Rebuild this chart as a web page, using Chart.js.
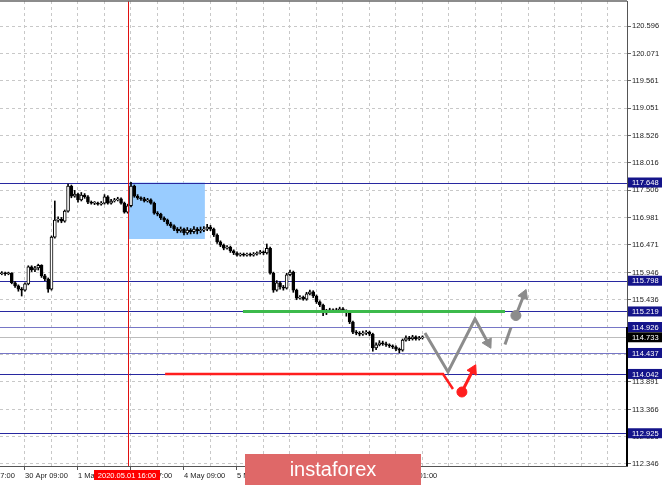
<!DOCTYPE html>
<html>
<head>
<meta charset="utf-8">
<script src="https://cdn.jsdelivr.net/npm/chart.js@4.4.1/dist/chart.umd.min.js"></script>
<style>
html, body { margin: 0; padding: 0; background: #fff; }
#wrap { width: 665px; height: 485px; }
</style>
</head>
<body>
<div id="wrap"><canvas id="myChart" width="665" height="485"></canvas></div>
<script>
// H1 bars, bar 8 = 30 Apr 09:00
const opens = [
	115.92, 115.93, 115.94, 115.93, 115.94, 115.76, 115.70, 115.64, 115.62, 115.74,
	116.06, 116.00, 116.04, 116.09, 115.89, 115.83, 115.64, 116.62, 116.94, 116.96,
	116.92, 117.11, 117.58, 117.39, 117.43, 117.32, 117.41, 117.38, 117.28, 117.26,
	117.26, 117.24, 117.26, 117.38, 117.26, 117.30, 117.32, 117.34, 117.26, 117.09,
	117.21, 117.58, 117.39, 117.36, 117.34, 117.30, 117.32, 117.26, 117.07, 117.05,
	116.98, 116.94, 116.87, 116.83, 116.77, 116.74, 116.77, 116.70, 116.75, 116.72,
	116.77, 116.74, 116.75, 116.77, 116.81, 116.77, 116.66, 116.53, 116.47, 116.41,
	116.43, 116.36, 116.32, 116.28, 116.30, 116.28, 116.30, 116.28, 116.30, 116.32,
	116.34, 116.32, 116.41, 115.94, 115.62, 115.76, 115.68, 115.66, 115.91, 115.96,
	115.62, 115.47, 115.49, 115.45, 115.55, 115.59, 115.51, 115.40, 115.34, 115.19,
	115.23, 115.25, 115.23, 115.25, 115.27, 115.23, 115.21, 115.02, 114.83, 114.81,
	114.79, 114.81, 114.83, 114.79, 114.53, 114.59, 114.63, 114.61, 114.59, 114.57,
	114.55, 114.51, 114.49, 114.68, 114.72, 114.70, 114.74, 114.70, 114.72
];
const highs = [
	115.96, 115.97, 115.96, 115.96, 115.95, 115.78, 115.72, 115.67, 115.76, 116.08,
	116.08, 116.07, 116.11, 116.10, 115.92, 115.85, 116.64, 117.30, 117.00, 116.99,
	117.13, 117.62, 117.60, 117.50, 117.45, 117.46, 117.44, 117.40, 117.30, 117.29,
	117.28, 117.29, 117.42, 117.40, 117.33, 117.35, 117.37, 117.36, 117.28, 117.24,
	117.65, 117.60, 117.42, 117.38, 117.37, 117.35, 117.34, 117.28, 117.10, 117.07,
	117.00, 116.96, 116.90, 116.85, 116.80, 116.81, 116.79, 116.80, 116.78, 116.82,
	116.80, 116.81, 116.82, 116.86, 116.84, 116.79, 116.68, 116.55, 116.49, 116.46,
	116.45, 116.38, 116.34, 116.32, 116.32, 116.32, 116.32, 116.33, 116.34, 116.37,
	116.36, 116.49, 116.43, 115.96, 115.80, 115.78, 115.71, 115.94, 116.00, 115.98,
	115.64, 115.52, 115.51, 115.58, 115.62, 115.61, 115.53, 115.42, 115.36, 115.26,
	115.28, 115.27, 115.28, 115.30, 115.29, 115.25, 115.23, 115.04, 114.86, 114.84,
	114.85, 114.86, 114.85, 114.81, 114.63, 114.67, 114.66, 114.64, 114.61, 114.59,
	114.57, 114.53, 114.70, 114.76, 114.75, 114.77, 114.76, 114.75, 114.76
];
const lows = [
	115.89, 115.91, 115.90, 115.91, 115.74, 115.67, 115.60, 115.51, 115.60, 115.72,
	115.97, 115.97, 116.00, 115.86, 115.80, 115.58, 115.62, 116.60, 116.90, 116.89,
	116.90, 117.09, 117.36, 117.37, 117.28, 117.30, 117.35, 117.25, 117.24, 117.23,
	117.22, 117.22, 117.24, 117.24, 117.24, 117.28, 117.30, 117.24, 117.07, 117.07,
	117.19, 117.37, 117.33, 117.31, 117.28, 117.28, 117.24, 117.05, 117.02, 116.95,
	116.91, 116.84, 116.80, 116.74, 116.70, 116.71, 116.66, 116.67, 116.68, 116.69,
	116.68, 116.70, 116.72, 116.74, 116.74, 116.63, 116.50, 116.44, 116.38, 116.39,
	116.33, 116.29, 116.26, 116.26, 116.26, 116.26, 116.26, 116.26, 116.28, 116.30,
	116.29, 116.30, 115.92, 115.58, 115.60, 115.64, 115.62, 115.64, 115.89, 115.58,
	115.44, 115.45, 115.43, 115.43, 115.53, 115.48, 115.37, 115.31, 115.14, 115.16,
	115.21, 115.21, 115.21, 115.23, 115.21, 115.13, 114.99, 114.80, 114.78, 114.76,
	114.77, 114.78, 114.76, 114.47, 114.50, 114.57, 114.58, 114.56, 114.54, 114.52,
	114.48, 114.44, 114.47, 114.66, 114.67, 114.68, 114.68, 114.68, 114.70
];
const closes = [
	115.93, 115.94, 115.93, 115.94, 115.76, 115.70, 115.64, 115.62, 115.74, 116.06,
	116.00, 116.04, 116.09, 115.89, 115.83, 115.64, 116.62, 116.94, 116.96, 116.92,
	117.11, 117.58, 117.39, 117.43, 117.32, 117.41, 117.38, 117.28, 117.26, 117.26,
	117.24, 117.26, 117.38, 117.26, 117.30, 117.32, 117.34, 117.26, 117.09, 117.21,
	117.58, 117.39, 117.36, 117.34, 117.30, 117.32, 117.26, 117.07, 117.05, 116.98,
	116.94, 116.87, 116.83, 116.77, 116.74, 116.77, 116.70, 116.75, 116.72, 116.77,
	116.74, 116.75, 116.77, 116.81, 116.77, 116.66, 116.53, 116.47, 116.41, 116.43,
	116.36, 116.32, 116.28, 116.30, 116.28, 116.30, 116.28, 116.30, 116.32, 116.34,
	116.32, 116.41, 115.94, 115.62, 115.76, 115.68, 115.66, 115.91, 115.96, 115.62,
	115.47, 115.49, 115.45, 115.55, 115.59, 115.51, 115.40, 115.34, 115.19, 115.23,
	115.25, 115.23, 115.25, 115.27, 115.23, 115.21, 115.02, 114.83, 114.81, 114.79,
	114.81, 114.83, 114.79, 114.53, 114.59, 114.63, 114.61, 114.59, 114.57, 114.55,
	114.51, 114.49, 114.68, 114.72, 114.70, 114.74, 114.70, 114.72, 114.73
];

// time axis
const timeLabels = ["29 Apr 17:00", "30 Apr 09:00", "1 May 01:00", "1 May 17:00", "4 May 09:00",
	"5 May 01:00", "5 May 17:00", "6 May 09:00", "7 May 01:00"];
const timeLabelBars = [-8, 8, 24, 40, 56, 72, 88, 104, 120];

// price axis
const priceTicks = [120.596, 120.071, 119.561, 119.051, 118.526, 118.016, 117.506, 116.981, 116.471,
	115.946, 115.436, 114.926, 114.416, 113.891, 113.366, 112.856, 112.346];

// horizontal levels
const levels = [117.648, 115.798, 115.219, 114.926, 114.437, 114.042, 112.925];
const lightLevels = [114.926, 114.437];
const bidPrice = 114.733;

// crosshair and rectangle
const crossBar = 39.1;
const crossLabel = "2020.05.01 16:00";
const zoneBars = [39.1, 62.3];
const zonePrices = [117.648, 116.584];

// drawn scenario: [bar, price]
const greenLine = [[73.8, 115.219], [152.9, 115.219]];
const redLine = [[50.3, 114.042], [134.2, 114.042], [137.2, 113.758]];
const redArrow = [[139.9, 113.702], [143.25, 114.116]];
const greyPath = [[128.75, 114.813], [135.7, 114.079], [143.85, 115.077], [147.8, 114.625]];
const greyDash = [[152.9, 114.596], [154.7, 114.916]];
const greyArrow = [[156.2, 115.142], [158.6, 115.529]];

const toPts = (arr) => arr.map((p) => ({ x: p[0], y: p[1] }));

Chart.defaults.font.family = "'Liberation Sans', Arial, sans-serif";
Chart.defaults.font.size = 7.5;
Chart.defaults.color = "#222";

const overlay = {
	id: "overlay",
	beforeDatasetsDraw(chart) {
		const { ctx, chartArea: a, scales: { x, y } } = chart;
		ctx.save();
		// blue rectangle
		ctx.fillStyle = "#99ccff";
		const zx1 = x.getPixelForValue(zoneBars[0]), zx2 = x.getPixelForValue(zoneBars[1]);
		const zy1 = y.getPixelForValue(zonePrices[0]), zy2 = y.getPixelForValue(zonePrices[1]);
		ctx.fillRect(zx1, zy1, zx2 - zx1, zy2 - zy1);
		// bid line
		ctx.strokeStyle = "#bcbcbc";
		ctx.lineWidth = 1;
		let by = Math.round(y.getPixelForValue(bidPrice)) + 0.5;
		ctx.beginPath(); ctx.moveTo(a.left, by); ctx.lineTo(a.right, by); ctx.stroke();
		// levels
		levels.forEach((lv) => {
			const py = Math.round(y.getPixelForValue(lv)) + 0.5;
			ctx.strokeStyle = lightLevels.includes(lv) ? "#7676c6" : "#2828a0";
			ctx.beginPath(); ctx.moveTo(a.left, py); ctx.lineTo(a.right, py); ctx.stroke();
		});
		ctx.restore();
	},
	afterDatasetsDraw(chart) {
		const { ctx, chartArea: a, scales: { x } } = chart;
		ctx.save();
		const cx = Math.round(x.getPixelForValue(crossBar)) + 0.5;
		ctx.strokeStyle = "#e01010";
		ctx.lineWidth = 1;
		ctx.beginPath(); ctx.moveTo(cx, a.top); ctx.lineTo(cx, a.bottom); ctx.stroke();
		ctx.restore();
	},
	afterDraw(chart) {
		const { ctx, chartArea: a, scales: { x, y } } = chart;
		ctx.save();
		// borders
		ctx.strokeStyle = "#666";
		ctx.lineWidth = 1.5;
		ctx.beginPath(); ctx.moveTo(0, a.top); ctx.lineTo(a.right, a.top); ctx.stroke();
		ctx.strokeStyle = "#000";
		ctx.lineWidth = 2;
		const sy = y.getPixelForValue(114.926);
		ctx.beginPath(); ctx.moveTo(a.right, sy); ctx.lineTo(a.right, a.bottom); ctx.stroke();

		// level price boxes
		ctx.font = "7.5px 'Liberation Sans', Arial, sans-serif";
		ctx.textBaseline = "middle";
		ctx.textAlign = "left";
		const box = (v, col) => {
			const py = y.getPixelForValue(v);
			ctx.fillStyle = col;
			ctx.fillRect(a.right + 1, py - 5, 34, 10);
			ctx.fillStyle = "#fff";
			ctx.fillText(v.toFixed(3), a.right + 5, py + 0.5);
		};
		levels.forEach((lv) => box(lv, "#14148a"));
		box(bidPrice, "#000");

		// crosshair time label
		const cx = x.getPixelForValue(crossBar);
		ctx.fillStyle = "#ff0000";
		ctx.fillRect(cx - 34, a.bottom + 4, 66, 10);
		ctx.fillStyle = "#fff";
		ctx.textAlign = "center";
		ctx.fillText(crossLabel, cx - 1, a.bottom + 9.5);

		// watermark
		ctx.fillStyle = "#df6868";
		ctx.fillRect(245, 454, 176, 31);
		ctx.fillStyle = "#fff";
		ctx.font = "20px 'Liberation Sans', Arial, sans-serif";
		ctx.textBaseline = "alphabetic";
		ctx.fillText("instaforex", 333, 476);
		ctx.restore();
	},
};

const gridBars = [-8];
for (let b = 8; b <= 184; b += 8) gridBars.push(b);

const ctx = document.getElementById("myChart").getContext("2d");

const myChart = new Chart(ctx, {
	type: "bar",
	data: {
		datasets: [
			{
				type: "line", data: toPts(greenLine), borderColor: "#3cba4b", borderWidth: 3,
				pointRadius: 0, order: 1,
			},
			{
				type: "line", data: toPts(redLine), borderColor: "#ff1e1e", borderWidth: 2.5,
				pointRadius: 0, order: 1,
			},
			{
				type: "line", data: toPts(redArrow), borderColor: "#ff1e1e", borderWidth: 3,
				pointStyle: ["circle", "triangle"], pointRadius: [5, 6], pointRotation: [0, 27],
				pointBackgroundColor: "#ff1e1e", pointBorderColor: "#ff1e1e", pointBorderWidth: 1, order: 1,
			},
			{
				type: "line", data: toPts(greyPath), borderColor: "#8c8c8c", borderWidth: 3,
				pointStyle: "triangle", pointRadius: [0, 0, 0, 6], pointRotation: 152,
				pointBackgroundColor: "#8c8c8c", pointBorderColor: "#8c8c8c", pointBorderWidth: 1, order: 1,
			},
			{
				type: "line", data: toPts(greyDash), borderColor: "#8c8c8c", borderWidth: 3,
				pointRadius: 0, order: 1,
			},
			{
				type: "line", data: toPts(greyArrow), borderColor: "#8c8c8c", borderWidth: 3,
				pointStyle: ["circle", "triangle"], pointRadius: [5, 6], pointRotation: [0, 22],
				pointBackgroundColor: "#8c8c8c", pointBorderColor: "#8c8c8c", pointBorderWidth: 1, order: 1,
			},
			{
				// bodies
				data: closes.map((c, i) => ({ x: i, y: [opens[i], c] })),
				barThickness: 3, grouped: false, borderSkipped: false, minBarLength: 1,
				backgroundColor: (c) => (c.raw && c.raw.y[1] >= c.raw.y[0] ? "#ffffff" : "#000000"),
				borderColor: "#000", borderWidth: 1, order: 5,
			},
			{
				// wicks
				data: closes.map((c, i) => ({ x: i, y: [lows[i], highs[i]] })),
				barThickness: 1, grouped: false, borderSkipped: false,
				backgroundColor: "#000", borderWidth: 0, order: 6,
			},
		],
	},
	plugins: [overlay],
	options: {
		responsive: false,
		animation: false,
		layout: { autoPadding: false, padding: { top: 1, left: 0, right: 0, bottom: 0 } },
		plugins: { legend: { display: false }, tooltip: { enabled: false } },
		scales: {
			x: {
				type: "linear",
				min: 0.453,
				max: 189.74,
				offset: false,
				afterBuildTicks: (s) => { s.ticks = gridBars.map((v) => ({ value: v })); },
				afterFit: (s) => { s.height = 19; s.paddingLeft = 0; s.paddingRight = 0; },
				grid: {
					offset: false, color: "#c8c8c8", lineWidth: 1, tickLength: 4, tickBorderDash: [],
					tickColor: (c) => (c.tick && timeLabelBars.includes(c.tick.value) ? "#555" : "rgba(0,0,0,0)"),
				},
				border: { color: "#555", width: 1, dash: [3, 3] },
				ticks: {
					autoSkip: false, maxRotation: 0, align: "start", padding: 1, color: "#222",
					callback: (v) => {
						const k = timeLabelBars.indexOf(v);
						return k >= 0 ? timeLabels[k] : "";
					},
				},
			},
			y: {
				position: "right",
				min: 112.308,
				max: 121.067,
				afterBuildTicks: (s) => { s.ticks = priceTicks.map((v) => ({ value: v })); },
				afterFit: (s) => { s.width = 38; s.paddingTop = 0; s.paddingBottom = 0; },
				grid: { color: "#c8c8c8", lineWidth: 1, tickLength: 4, tickColor: "#666", tickBorderDash: [] },
				border: { color: "#555", width: 1, dash: [3, 3] },
				ticks: { padding: 1, color: "#222", callback: (v) => v.toFixed(3) },
			},
		},
	},
});
</script>
</body>
</html>
